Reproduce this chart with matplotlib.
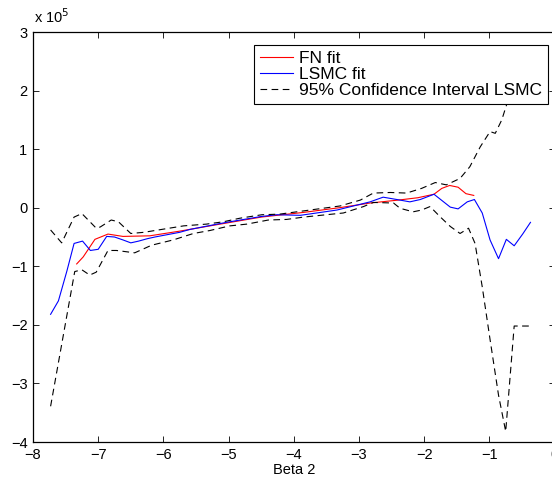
import matplotlib
matplotlib.use("Agg")
import matplotlib.pyplot as plt

plt.rcParams['font.family'] = ['Liberation Sans', 'DejaVu Sans']

# LSMC fit
lsmc_x = [-7.73, -7.61, -7.48, -7.37, -7.24, -7.12, -7.00, -6.87, -6.75, -6.62, -6.50,
          -6.38, -6.25, -6.13, -5.75, -5.59, -5.13, -4.98, -4.50, -4.26, -3.90, -3.34,
          -2.83, -2.63, -2.42, -2.22, -2.06, -1.85, -1.60, -1.48, -1.34, -1.23, -1.11,
          -0.99, -0.86, -0.74, -0.62, -0.49, -0.37]
lsmc_y = [-1.82, -1.59, -1.08, -0.61, -0.57, -0.73, -0.71, -0.49, -0.50, -0.55, -0.60,
          -0.57, -0.53, -0.50, -0.42, -0.37, -0.27, -0.24, -0.15, -0.12, -0.13, -0.04,
          0.10, 0.18, 0.14, 0.10, 0.14, 0.23, 0.01, -0.02, 0.10, 0.14, -0.09,
          -0.55, -0.87, -0.54, -0.65, -0.45, -0.25]

# FN fit
fn_x = [-7.33, -7.23, -7.05, -6.85, -6.62, -6.21, -5.75, -5.13, -4.50, -3.85, -3.30,
        -2.83, -2.40, -2.10, -1.85, -1.73, -1.61, -1.48, -1.36, -1.24]
fn_y = [-0.96, -0.84, -0.54, -0.45, -0.49, -0.48, -0.40, -0.28, -0.16, -0.08, 0.00,
        0.08, 0.13, 0.17, 0.23, 0.33, 0.38, 0.35, 0.24, 0.21]

# 95% confidence interval (upper)
up_x = [-7.73, -7.56, -7.37, -7.25, -7.03, -6.97, -6.80, -6.69, -6.50, -6.30, -5.69,
        -5.34, -5.08, -4.83, -4.49, -4.22, -3.29, -2.98, -2.78, -2.52, -2.27, -2.04,
        -1.83, -1.66, -1.45, -1.30, -1.14, -0.99, -0.91, -0.81, -0.73, -0.62, -0.49, -0.37]
up_y = [-0.38, -0.60, -0.16, -0.10, -0.35, -0.33, -0.21, -0.24, -0.44, -0.42, -0.31,
        -0.28, -0.24, -0.18, -0.12, -0.11, 0.03, 0.13, 0.25, 0.26, 0.25, 0.33,
        0.43, 0.39, 0.50, 0.70, 1.04, 1.30, 1.27, 1.50, 1.78, 2.00, 2.00, 2.00]

# 95% confidence interval (lower)
lo_x = [-7.73, -7.36, -7.25, -7.13, -7.03, -6.85, -6.72, -6.44, -6.18, -5.85, -5.54,
        -5.29, -4.98, -4.72, -4.39, -4.11, -3.85, -3.24, -2.93, -2.78, -2.47, -2.37,
        -2.17, -2.04, -1.91, -1.76, -1.60, -1.45, -1.32, -1.22, -1.11, -0.99, -0.86,
        -0.75, -0.62, -0.49, -0.37]
lo_y = [-3.39, -1.09, -1.06, -1.15, -1.10, -0.73, -0.73, -0.77, -0.64, -0.55, -0.44,
        -0.39, -0.31, -0.28, -0.21, -0.20, -0.16, -0.09, 0.02, 0.09, 0.08, -0.01,
        -0.07, -0.04, 0.02, -0.15, -0.32, -0.44, -0.35, -0.61, -1.35, -2.25, -3.20,
        -3.82, -2.02, -2.02, -2.02]

xticks = [-8, -7, -6, -5, -4, -3, -2, -1, 0]
yticks = [-4, -3, -2, -1, 0, 1, 2, 3]

W, H = 552, 487
fig = plt.figure(figsize=(W / 100, H / 100), dpi=100)
ax = fig.add_axes([33 / W, 45 / H, (554.6 - 33) / W, (442 - 32) / H])

ax.plot(fn_x, fn_y, color='#ff0000', lw=0.8, label='FN fit')
ax.plot(lsmc_x, lsmc_y, color='#0000ff', lw=0.8, label='LSMC fit')
ax.plot(up_x, up_y, color='black', lw=0.8, linestyle=(0, (6, 4)),
        label='95% Confidence Interval LSMC')
ax.plot(lo_x, lo_y, color='black', lw=0.8, linestyle=(0, (6, 4)))

ax.set_xlim(-8, 0)
ax.set_ylim(-4, 3)
ax.set_xticks(xticks)
ax.set_yticks(yticks)
ax.tick_params(direction='in', length=4, width=0.6, top=True, right=True,
               labelsize=10.5, pad=4)
for s in ax.spines.values():
    s.set_linewidth(0.9)

ax.set_xlabel('Beta 2', fontsize=10.5, labelpad=1)

fig.text(34 / W, 1 - 17 / H, r'x 10$^{5}$', fontsize=10.5, ha='left', va='center')

leg = ax.legend(loc='upper right', bbox_to_anchor=(548 / W, 1 - 45 / H),
                bbox_transform=fig.transFigure, fontsize=12.5, frameon=True,
                fancybox=False, edgecolor='black', framealpha=1,
                borderpad=0.35, labelspacing=0.05, handlelength=1.9,
                handletextpad=0.35, borderaxespad=0)
leg.get_frame().set_linewidth(0.8)

fig.savefig('out.png', dpi=100)
